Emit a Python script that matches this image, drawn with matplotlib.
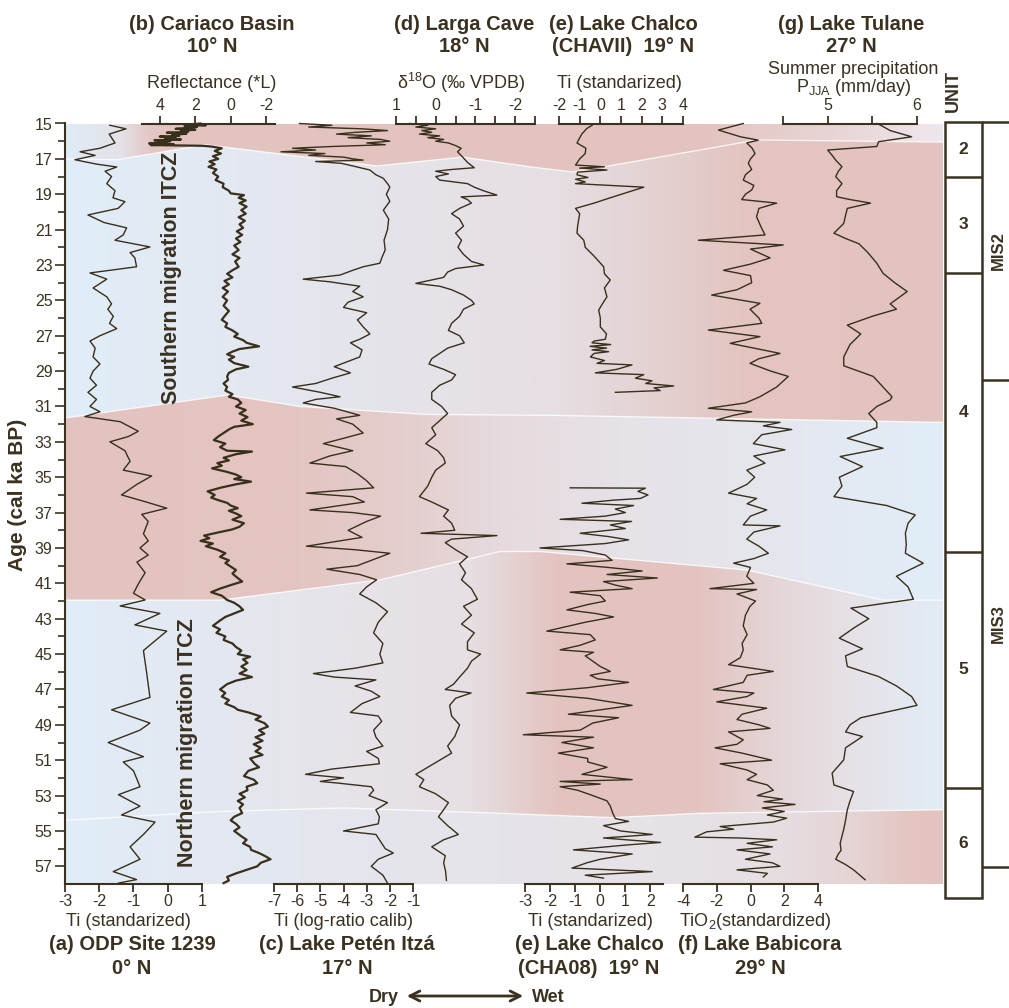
import matplotlib
matplotlib.use('Agg')
import matplotlib.pyplot as plt
import numpy as np
from matplotlib.patches import Polygon, Rectangle, FancyArrowPatch
from matplotlib.colors import to_rgb

# ---------------- data (age in cal ka BP, proxy value) ----------------
# (a) ODP Site 1239, Ti standarized
odp_age = [15.1, 15.3, 15.6, 16.1, 16.4, 16.6, 16.8, 17.05, 17.3, 17.46, 17.7, 18.0, 18.4, 18.8, 19.2,
           19.42, 19.8, 20.17, 20.6, 20.9, 21.3, 21.6, 21.98, 22.3, 22.6, 23.1, 23.45, 23.8, 24.3, 24.8,
           25.2, 25.5, 25.9, 26.3, 26.6, 27.0, 27.3, 27.7, 28.2, 28.6, 29.0, 29.4, 29.8, 30.2, 30.6,
           31.0, 31.3, 31.57, 31.86, 32.4, 32.7, 33.0, 33.5, 34.1, 34.6, 34.93, 35.4, 36.0, 36.4, 36.75,
           37.1, 37.5, 38.2, 38.6, 39.0, 39.4, 39.8, 40.4, 41.0, 41.56, 41.94, 42.28, 42.7, 43.35, 43.7,
           44.8, 46.0, 47.45, 48.15, 48.9, 49.3, 50.0, 50.8, 51.1, 51.6, 52.5, 52.95, 53.6, 54.1, 54.5,
           55.2, 55.9, 56.6, 57.3, 57.75, 57.95]
odp_ti = [-1.69, -1.22, -1.71, -1.54, -1.98, -2.56, -2.12, -2.71, -2.07, -1.49, -1.83, -1.64, -1.78, -1.54, -1.6,
          -1.25, -1.45, -2.33, -1.86, -1.2, -1.3, -1.54, -0.52, -1.1, -0.96, -0.91, -2.27, -1.78, -2.18, -1.78,
          -1.64, -1.75, -1.59, -1.7, -1.49, -1.98, -2.27, -2.12, -2.18, -1.98, -2.18, -2.27, -2.08, -2.33, -2.08,
          -2.27, -1.98, -2.42, -1.39, -0.86, -1.15, -1.69, -1.25, -1.1, -1.3, -0.47, -0.9, -1.35, -0.63, -0.03,
          -0.76, -0.57, -0.71, -0.57, -0.81, -0.57, -0.9, -0.66, -0.85, -1.0, -0.66, -1.39, -0.23, -0.96, -0.03,
          -0.71, -0.62, -0.52, -1.64, -0.52, -0.81, -1.74, -0.71, -1.3, -1.0, -0.81, -1.44, -0.81, -1.35, -0.37,
          -0.71, -1.1, -0.81, -1.59, -0.91, -1.44]

# (b) Cariaco Basin, reflectance (*L)
cariaco_age = [15.0, 15.05, 15.1, 15.13, 15.2, 15.24, 15.3, 15.36, 15.4, 15.47, 15.52, 15.58, 15.63, 15.7,
               15.74, 15.8, 15.86, 15.9, 15.95, 16.0, 16.05, 16.1, 16.13, 16.18, 16.22, 16.26, 16.3, 16.4,
               16.55, 16.7, 16.85, 17.0, 17.15, 17.3, 17.45, 17.6,
               17.8, 18.0, 18.2, 18.4, 18.6, 18.8, 18.95, 19.05, 19.2, 19.35, 19.5, 19.7, 19.9, 20.1, 20.3,
               20.5, 20.7, 20.9, 21.1, 21.3, 21.5, 21.7, 21.9, 22.15, 22.4, 22.6, 22.8, 23.1, 23.3, 23.5,
               23.7, 23.9, 24.1, 24.3, 24.5, 24.8, 25.0, 25.3, 25.6, 25.9, 26.1, 26.3, 26.5, 26.7, 26.9,
               27.05, 27.25, 27.4, 27.6, 27.75, 27.9, 28.05, 28.2, 28.35, 28.55, 28.75, 28.9, 29.1, 29.3,
               29.5, 29.7, 29.9, 30.1, 30.3, 30.45, 30.6, 30.8, 31.0, 31.2, 31.4, 31.6, 31.8, 32.0, 32.15,
               32.3, 32.5, 32.7, 32.9, 33.1, 33.3, 33.5, 33.55, 33.7, 33.9, 34.05, 34.2, 34.35, 34.5, 34.7,
               34.85, 35.0, 35.1, 35.25, 35.4, 35.6, 35.8, 36.0, 36.15, 36.28, 36.45, 36.6, 36.75, 36.9,
               37.05, 37.2, 37.4, 37.6, 37.8, 37.95, 38.1, 38.3, 38.45, 38.6, 38.75, 38.9, 39.1, 39.3, 39.5,
               39.7, 39.85, 40.05, 40.25, 40.45, 40.7, 40.9, 41.1, 41.3, 41.5, 41.7, 41.94, 42.1, 42.3, 42.5,
               42.7, 42.9, 43.1, 43.4, 43.6, 43.8, 44.0, 44.2, 44.4, 44.6, 44.8, 45.0, 45.15, 45.3, 45.5,
               45.7, 45.9, 46.1, 46.3, 46.5, 46.7, 46.85, 47.0, 47.2, 47.4, 47.6, 47.8, 48.0, 48.15, 48.3,
               48.53, 48.7, 48.9, 49.1, 49.3, 49.5, 49.7, 49.9, 50.1, 50.3, 50.5, 50.7, 50.9, 51.2, 51.4,
               51.6, 51.9, 52.1, 52.3, 52.5, 52.7, 52.9, 53.1, 53.3, 53.5, 53.7, 53.99, 54.2, 54.4, 54.6,
               54.8, 55.0, 55.3, 55.5, 55.7, 55.9, 56.07, 56.25, 56.4, 56.6, 56.8, 57.0, 57.2, 57.4, 57.6,
               57.8, 57.95]
cariaco_refl = [1.7, 2.2, 1.4, 2.6, 1.9, 2.3, 3.1, 2.0, 2.8, 2.4, 3.6, 2.5, 3.3, 2.9, 4.0, 3.1, 3.7, 2.8,
                4.3, 3.4, 4.1, 3.6, 4.6, 3.2, 4.5, 1.6, 1.1, 0.5,
                0.9, 0.55, 1.0, 0.7, 1.2, 0.9, 1.25, 0.8,
                1.0, 0.7, 0.85, 0.4, 0.45, 0.1, 0.0, -0.75, -0.45, -0.85, -0.5, -0.9, -0.6, -0.85, -0.45,
                -0.8, -0.5, -0.7, -0.35, -0.65, -0.3, -0.55, -0.2, -0.45, -0.1, -0.5, -0.25, -0.45, -0.1, 0.2,
                -0.1, 0.35, 0.1, 0.45, 0.15, 0.45, 0.2, 0.4, 0.1, 0.35, 0.5, 0.2, 0.3, -0.1, -0.4,
                -0.2, -0.7, -0.9, -1.6, -0.5, -0.1, 0.2, -0.2, 0.1, -0.2, -1.0, -0.3, 0.1, 0.2,
                0.15, 0.4, 0.2, 0.3, -0.1, 0.1, -0.4, -0.6, -0.3, -0.85, -0.5, -0.95, -0.6, -1.25, -0.2,
                0.1, 0.4, 0.7, 0.95, 0.3, 0.6, 0.2, -1.2, -0.3, 0.4, 0.1, 0.75, 0.5, 1.05, 0.2,
                -0.3, -0.6, -0.2, -1.15, -0.3, 0.6, 1.3, 0.9, 1.1, 0.75, 0.2, 0.0, -0.4, 0.1,
                -0.3, -0.6, -0.1, -0.75, -0.5, -0.1, 0.6, 1.5, 1.2, 1.7, 1.0, 1.4, 0.75, 0.3, 0.6,
                0.1, 0.3, 0.0, -0.3, -0.1, -0.4, -0.65, 0.0, 0.6, 1.1, 0.5, 0.2, -0.2, -0.5, -0.7,
                -0.2, 0.3, 0.6, 1.0, 0.6, 0.8, 0.3, 0.4, -0.1, -0.3, -0.6, -0.4, -1.1, -0.7, -0.95,
                -0.6, -0.9, -0.5, -1.2, -0.3, 0.2, 0.4, 0.6, 0.3, 0.5, 0.1, 0.3, -0.2, -0.4, -1.0,
                -1.7, -1.4, -1.9, -2.1, -1.6, -1.9, -1.4, -1.8, -1.3, -1.7, -1.4, -1.8, -1.1, -1.35, -1.6,
                -1.0, -0.75, -1.3, -1.5, -0.9, -0.95, -0.5, -0.8, -0.4, -0.7, -0.5, -0.65, -0.2, 0.0, -0.3,
                -0.5, -0.2, -0.6, -0.9, -0.7, -1.1, -1.15, -1.6, -1.9, -2.25, -1.7, -1.5, -0.9, -0.3, 0.2,
                0.1, 0.4]

# (c) Lake Peten Itza, Ti log-ratio calib
peten_age = [15.0, 15.1, 15.2, 15.3, 15.4, 15.5, 15.6, 15.7, 15.8, 15.9, 16.0, 16.1, 16.2, 16.3, 16.4, 16.5,
             16.6, 16.7, 16.8, 16.9, 17.0, 17.07, 17.15, 17.25, 17.4, 17.63, 17.9, 18.1, 18.4, 18.6, 19.0,
             19.4, 19.9, 20.4, 21.0, 21.6, 22.15, 22.6, 22.9, 23.1, 23.3, 23.57, 23.8, 23.95, 24.2, 24.5,
             24.8, 25.1, 25.4, 25.7, 26.1, 26.5, 26.9, 27.2, 27.4, 27.8, 28.2, 28.5, 28.75, 29.1, 29.4,
             29.7, 29.9, 30.2, 30.45, 30.6, 30.8, 31.1, 31.5, 31.7, 32.0, 32.5, 32.8, 33.1, 33.5, 33.8,
             34.2, 34.4, 34.8, 35.2, 35.6, 35.9, 36.1, 36.4, 36.85, 37.0, 37.2, 37.5, 38.0, 38.4, 38.9,
             39.1, 39.3, 39.6, 40.0, 40.2, 40.5, 40.8, 41.2, 41.6, 42.1, 42.6, 43.2, 43.8, 44.4, 45.0,
             45.5, 45.8, 46.1, 46.3, 46.46, 46.8, 47.1, 47.4, 47.8, 48.3, 48.5, 48.8, 49.3, 49.7, 50.2,
             50.5, 50.9, 51.2, 51.5, 51.8, 52.0, 52.2, 52.3, 52.5, 52.7, 53.0, 53.4, 53.8, 54.2, 54.6,
             55.0, 55.2, 55.6, 56.0, 56.25, 56.6, 57.0, 57.5, 57.95]
peten_ti = [-5.9, -4.5, -5.5, -3.2, -2.1, -3.5, -4.3, -2.8, -3.8, -2.4, -2.0, -3.0, -2.2, -4.5, -6.2, -5.2,
            -6.7, -4.8, -5.5, -4.0, -3.6, -3.15, -5.2, -4.1, -3.6, -2.86, -2.6, -2.28, -2.1, -2.0, -2.15,
            -2.0, -2.28, -2.05, -2.1, -2.25, -2.2, -2.35, -2.43, -3.15, -3.6, -4.15, -5.74, -4.6, -3.3, -3.6,
            -3.15, -3.8, -4.0, -3.0, -3.4, -3.15, -2.86, -3.3, -3.7, -3.2, -3.3, -3.9, -4.4, -3.7, -4.5,
            -5.2, -6.2, -5.0, -4.15, -5.2, -5.74, -4.4, -3.3, -4.3, -3.6, -3.15, -4.0, -4.87, -3.6, -4.6,
            -5.45, -3.9, -3.4, -3.0, -2.7, -5.6, -3.6, -3.1, -5.45, -3.6, -2.4, -3.0, -3.8, -3.2, -5.6,
            -3.5, -2.0, -2.6, -3.4, -4.72, -3.3, -2.57, -3.0, -3.3, -2.6, -2.1, -2.5, -2.7, -2.3, -2.43,
            -2.3, -3.5, -5.3, -4.4, -2.6, -3.5, -2.8, -2.43, -3.2, -3.7, -2.5, -2.35, -2.7, -2.6, -2.3,
            -3.0, -2.5, -2.45, -4.5, -5.64, -4.0, -5.0, -4.2, -2.8, -2.7, -2.9, -2.1, -2.6, -2.45, -2.5,
            -4.0, -2.6, -2.4, -2.2, -1.85, -2.5, -2.8, -2.3, -2.1]

# (d) Larga Cave, d18O (permil VPDB)
larga_age = [15.0, 15.1, 15.2, 15.3, 15.4, 15.5, 15.6, 15.7, 15.8, 15.9, 16.0, 16.1, 16.25, 16.4, 16.6, 16.9,
             17.2, 17.5, 17.6, 17.7, 17.85, 18.0, 18.2, 18.4, 18.6, 18.8, 19.05, 19.15, 19.3, 19.5, 19.8,
             20.1, 20.4, 20.8, 21.2, 21.6, 22.0, 22.4, 22.8, 23.0, 23.2, 23.4, 23.7, 24.04, 24.2, 24.4,
             24.7, 25.0, 25.2, 25.5, 25.9, 26.3, 26.7, 27.0, 27.4, 27.7, 28.0, 28.3, 28.6, 28.9, 29.2,
             29.5, 29.8, 30.2, 30.6, 31.0, 31.4, 31.8, 32.2, 32.6, 33.1, 33.5, 33.9, 34.2, 34.6, 35.0,
             35.5, 36.1, 36.4, 36.85, 37.2, 37.6, 38.0, 38.17, 38.3, 38.5, 38.7, 39.1, 39.5, 39.9, 40.4,
             40.8, 41.3, 41.9, 42.3, 42.8, 43.3, 43.8, 44.3, 44.76, 45.0, 45.4, 45.8, 46.3, 46.7, 47.0,
             47.2, 47.5, 47.9, 48.5, 49.0, 49.66, 50.2, 50.6, 51.0, 51.4, 51.8, 52.1, 52.5, 52.9, 53.4,
             53.8, 54.2, 54.7, 55.2, 55.5, 55.9, 56.4, 56.8, 57.3, 57.8]
larga_d18o = [0.66, 0.2, 0.5, 0.0, 0.35, 0.1, 0.41, -0.1, 0.2, -0.2, 0.0, -0.32, -0.5, -0.64, -0.55, -0.68,
              -0.8, -0.97, -0.4, 0.0, -0.32, 0.0, -0.1, -0.8, -0.97, -1.2, -1.54, -0.64, -0.8, -0.9, -0.6,
              -0.4, -0.6, -0.7, -0.5, -0.65, -0.56, -0.7, -0.9, -1.21, -0.5, -0.3, -0.2, 0.5, -0.1, -0.4,
              -0.7, -0.9, -0.97, -0.7, -0.6, -0.4, -0.32, -0.6, -0.72, -0.3, -0.1, 0.1, 0.17, -0.2, -0.5,
              -0.4, -0.1, 0.1, 0.1, -0.15, -0.3, -0.1, 0.1, 0.0, 0.25, -0.05, -0.2, -0.24, 0.0, 0.1,
              0.2, 0.41, 0.1, -0.32, -0.2, -0.4, -0.48, 0.37, -1.54, -0.4, -0.24, -0.5, -0.8, -0.6, -0.75,
              -0.65, -0.9, -1.05, -0.7, -0.9, -0.65, -0.97, -0.8, -0.8, -1.13, -0.9, -0.8, -0.6, -0.45, -0.24,
              -0.89, -0.5, -0.35, -0.4, -0.6, -0.48, -0.3, -0.4, -0.1, 0.2, 0.5, 0.3, 0.41, 0.0, -0.32,
              -0.2, -0.07, -0.3, -0.57, -0.2, 0.1, -0.24, -0.2, -0.25, -0.27]

# (e) Lake Chalco CHAVII, Ti standarized (top axis)
chavii_age = [15.1, 15.28, 15.6, 16.1, 16.4, 16.7, 17.0, 17.35, 17.45, 17.52, 17.63, 17.75, 17.9, 18.05, 18.15,
              18.3, 18.4, 18.6, 19.2, 19.5, 19.8, 20.1, 20.46, 20.8, 21.2, 21.6, 22.0, 22.5, 23.1, 23.5,
              23.85, 24.3, 24.8, 25.2, 25.55, 26.0, 26.5, 26.9, 27.2, 27.3, 27.4, 27.5, 27.6, 27.7, 27.8,
              27.9, 28.0, 28.2, 28.4, 28.56, 28.65, 28.9, 29.1, 29.2, 29.4, 29.55, 29.7, 29.84, 29.95, 30.1,
              30.2]
chavii_ti = [-0.4, -0.65, -0.9, -1.13, -0.7, -0.73, -1.0, -1.2, 0.2, -1.0, 0.32, -1.1, -1.13, -0.6, -1.2,
             -0.73, -1.2, 2.1, 0.48, -0.3, -1.2, -1.0, -1.05, -1.1, -1.13, -0.8, -0.73, -0.3, 0.16, 0.2,
             0.48, 0.2, 0.32, 0.1, -0.08, 0.0, 0.0, 0.3, 0.24, -0.3, -0.4, 0.5, -0.5, 0.3, -0.4,
             0.4, -0.3, -0.48, 0.2, -0.16, 1.53, 0.8, -0.24, 2.1, 1.7, 2.5, 2.2, 3.55, 2.6, 2.9,
             0.73]

# (e) Lake Chalco CHA08, Ti standarized (bottom axis)
cha08_age = [35.6, 35.62, 35.8, 36.0, 36.2, 36.3, 36.47, 36.6, 36.8, 37.0, 37.2, 37.38, 37.5, 37.7, 37.9,
             38.17, 38.35, 38.54, 38.75, 39.0, 39.15, 39.4, 39.7, 39.9, 40.1, 40.3, 40.5, 40.7, 40.9, 41.1,
             41.3, 41.5, 41.7, 42.0, 42.2, 42.5, 42.7, 42.9, 43.2, 43.7, 43.9, 44.2, 44.5, 44.76, 44.9,
             45.1, 45.4, 45.7, 45.98, 46.2, 46.4, 46.6, 46.9, 47.2, 47.5, 47.9, 48.1, 48.4, 48.6, 48.9,
             49.3, 49.56, 49.7, 50.0, 50.3, 50.6, 50.9, 51.1, 51.4, 51.8, 52.1, 52.2, 52.35, 52.5, 52.7,
             53.0, 53.3, 53.6, 54.0, 54.3, 54.46, 54.7, 55.0, 55.2, 55.4, 55.65, 55.8, 56.07, 56.3, 56.6,
             56.8, 57.1, 57.3, 57.5, 57.67]
cha08_ti = [-1.2, 1.8, 1.5, 1.9, 1.6, 0.5, -0.73, 1.33, 0.6, 1.0, 0.2, -1.6, 1.25, 0.4, 1.0,
            -0.8, 0.3, 1.13, 0.2, -2.4, -0.7, 0.2, 0.47, -1.33, 0.3, 1.67, 0.27, 2.27, 0.13, 0.6,
            1.27, -1.2, 0.0, 0.2, -0.5, -1.33, -0.2, 0.53, -0.6, -2.13, -0.4, -0.2, -0.8, -1.6, -0.27,
            -0.6, -0.3, 0.0, 0.4, -0.4, -0.1, 1.13, -0.5, -2.93, -0.5, 1.27, 0.27, -1.27, 0.73, -0.3,
            -0.8, -3.07, -0.27, -1.53, -0.27, -1.67, -0.5, -0.5, 0.27, -0.73, 1.27, -1.6, 0.0, -1.6, -0.9,
            -0.3, 0.27, 0.4, 0.5, 0.6, 1.13, 0.13, 0.8, 2.07, 0.13, 2.4, 1.0, -1.07, 1.27, 0.0,
            -0.53, -1.13, 2.07, -0.6, 0.13]

# (f) Lake Babicora, TiO2 standardized
babicora_age = [15.0, 15.37, 15.75, 15.94, 16.1, 16.4, 16.7, 17.0, 17.25, 17.6, 17.9, 18.2, 18.5, 18.76, 19.0,
                19.3, 19.5, 19.8, 20.27, 20.8, 21.3, 21.6, 21.87, 22.1, 22.6, 22.95, 23.3, 23.6, 24.0, 24.4,
                24.7, 25.17, 25.5, 26.0, 26.3, 26.68, 27.05, 27.43, 28.0, 28.3, 28.56, 29.0, 29.3, 29.9, 30.45,
                30.8, 31.1, 31.3, 31.5, 31.76, 31.9, 32.1, 32.3, 32.6, 33.1, 33.45, 33.8, 34.2, 34.6, 35.0,
                35.4, 35.9, 36.2, 36.5, 36.85, 37.2, 37.7, 37.75, 38.1, 38.5, 38.9, 39.3, 39.6, 39.86, 40.1,
                40.6, 41.0, 41.3, 41.35, 41.6, 42.0, 42.3, 42.8, 43.4, 43.9, 44.4, 44.76, 45.2, 45.6, 45.98,
                46.2, 46.6, 47.0, 47.2, 47.4, 47.7, 48.06, 48.4, 48.7, 49.0, 49.2, 49.4, 49.85, 50.1, 50.3,
                50.6, 51.0, 51.2, 51.55, 51.8, 52.1, 52.4, 52.7, 53.0, 53.2, 53.35, 53.5, 53.7, 53.9, 54.1,
                54.28, 54.5, 54.75, 54.9, 55.05, 55.35, 55.4, 55.5, 55.7, 55.9, 56.07, 56.3, 56.6, 56.8, 57.0,
                57.2, 57.4, 57.6]
babicora_tio2 = [-0.43, -1.9, -0.6, 0.46, -0.22, 0.1, 0.27, 0.0, -0.13, 0.07, -0.3, -0.43, 0.2, 0.07, -0.3,
                 -0.52, 1.55, 0.5, 0.36, 0.6, 0.86, -3.09, 1.94, 0.0, 1.16, 0.0, -1.6, 0.0, 0.07, -0.8,
                 -2.3, 0.56, -0.03, 0.5, 0.67, -2.5, 0.56, -1.2, 1.75, 0.5, -0.03, 1.2, 2.24, 1.55, 0.56,
                 -0.3, -2.5, 0.07, -1.0, -2.0, 1.75, 0.76, 2.44, 0.66, 0.17, 2.04, 0.2, 0.86, -0.22, 0.25,
                 -0.2, -1.3, 0.36, -0.2, 0.96, 0.0, -0.43, 1.75, 0.2, -0.22, 0.5, 1.06, 0.2, -1.0, 0.0,
                 -0.22, 0.2, -2.4, 0.36, -0.8, 0.3, -0.03, -0.3, -0.43, -0.2, -0.5, -0.43, -0.6, -1.3, 1.35,
                 -0.2, -0.43, -2.2, 0.2, -0.2, -2.0, 0.96, -0.5, -0.8, 0.5, 1.16, -1.3, -0.43, -0.8, -2.1,
                 -0.5, 1.25, -1.8, -0.22, 0.36, -0.2, 1.0, 1.35, 0.4, 1.9, 0.8, 2.64, 0.7, 2.0, 1.0,
                 2.14, 1.35, -1.8, -1.0, -2.6, -3.3, -0.6, 1.55, -0.2, 1.3, -0.8, 1.16, -0.3, 1.3, 1.75,
                 -0.8, 1.0, 0.76]

# (g) Lake Tulane, summer precipitation P_JJA (mm/day)
tulane_age = [15.0, 15.09, 15.4, 15.75, 16.03, 16.3, 16.5, 16.8, 17.07, 17.44, 17.7, 18.0, 18.4, 18.8, 19.14,
              19.3, 19.5, 19.8, 20.2, 20.65, 21.2, 21.5, 21.8, 22.3, 22.9, 23.47, 24.0, 24.5, 25.2, 25.5,
              25.9, 26.4, 26.9, 27.5, 28.2, 28.7, 29.3, 29.9, 30.45, 30.63, 31.0, 31.4, 31.9, 32.2, 32.8,
              33.36, 33.83, 34.4, 35.0, 35.5, 36.1, 36.6, 37.13, 37.6, 38.17, 38.8, 39.3, 39.86, 40.6, 41.2,
              41.9, 42.4, 43.0, 43.5, 44.1, 44.7, 45.1, 45.7, 46.27, 46.8, 47.4, 47.9, 48.6, 49.0, 49.4,
              49.66, 50.3, 50.98, 51.73, 52.4, 52.77, 53.3, 53.8, 54.4, 54.9, 55.3, 55.7, 56.1, 56.3, 56.6,
              56.9, 57.2, 57.76]
tulane_pjja = [5.55, 5.59, 5.7, 5.94, 5.57, 5.55, 5.0, 5.05, 5.09, 5.16, 5.12, 5.09, 5.16, 5.1, 5.1,
               5.25, 5.48, 5.22, 5.2, 5.18, 5.07, 5.2, 5.35, 5.45, 5.55, 5.62, 5.75, 5.89, 5.7, 5.77,
               5.5, 5.22, 5.37, 5.25, 5.18, 5.18, 5.51, 5.62, 5.72, 5.7, 5.55, 5.46, 5.55, 5.55, 5.22,
               5.62, 5.14, 5.39, 5.13, 5.16, 5.07, 5.66, 5.98, 5.9, 5.87, 5.88, 5.87, 6.07, 5.77, 5.9,
               5.96, 5.26, 5.46, 5.3, 5.13, 5.39, 5.2, 5.22, 5.57, 5.77, 5.94, 6.0, 5.37, 5.25, 5.2,
               5.39, 5.2, 5.18, 5.05, 5.07, 5.29, 5.25, 5.22, 5.2, 5.18, 5.16, 5.14, 5.15, 5.12, 5.09,
               5.2, 5.29, 5.42]

# shaded climate bands: boundary ages where the slanted edges bend
b1_x = [65, 117, 205, 377, 463, 530, 573, 603, 757, 943]
b1_age = [17.0, 17.05, 16.2, 17.4, 16.9, 17.45, 17.74, 17.46, 15.93, 16.05]
b2_x = [65, 228, 300, 427, 550, 943]
b2_age = [31.65, 30.35, 31.0, 31.45, 31.5, 31.9]
b3_x = [65, 220, 380, 500, 540, 747, 883, 943]
b3_age = [41.95, 41.95, 40.8, 39.2, 39.2, 40.25, 41.95, 41.95]
b4_x = [65, 220, 343, 500, 613, 700, 943]
b4_age = [54.4, 53.9, 53.7, 54.0, 54.25, 54.0, 53.8]

# lithological units and marine isotope stages
unit_names = ['2', '3', '4', '5', '6']
unit_bounds = [14.92, 18.0, 23.45, 39.2, 52.6, 58.8]
mis_names = ['MIS2', 'MIS3']
mis_bounds = [14.92, 29.5, 57.05]

# ---------------- style ----------------
TXT = '#3b3121'
LINE = '#382f1c'
PINK = '#e3c3bf'
BLUE = '#e0edf8'
band_colors = [
    [(65, '#dfecf7'), (120, '#e4e2e8'), (150, '#e3c7c4'), (180, PINK), (700, PINK), (830, '#e8d4d5'), (943, '#efe7ee')],
    [(65, BLUE), (150, '#e2ebf5'), (300, '#e4e6ee'), (450, '#e6e2e8'), (560, '#e6dee2'), (650, '#e4d2d2'), (740, '#e3c5c1'), (943, PINK)],
    [(65, PINK), (300, '#e3c5c1'), (420, '#e5d0d0'), (500, '#e6dade'), (620, '#e6e2e8'), (760, '#e5e6ed'), (870, '#e3ebf4'), (943, BLUE)],
    [(65, BLUE), (180, '#e3e9f2'), (330, '#e6e4ea'), (470, '#e6dfe3'), (530, '#e4ccca'), (560, PINK), (700, '#e3c4c0'), (780, '#e5d6d8'), (860, '#e6e3e9'), (943, '#e2ecf6')],
    [(65, BLUE), (200, '#e3e9f2'), (400, '#e5e5ec'), (600, '#e6e3e8'), (760, '#e6e0e4'), (860, '#e5d3d3'), (910, '#e3c5c1'), (943, PINK)],
]

plt.rcParams['font.family'] = ['Liberation Sans', 'DejaVu Sans']
plt.rcParams['mathtext.fontset'] = 'custom'
plt.rcParams['mathtext.rm'] = 'Liberation Sans'
plt.rcParams['mathtext.it'] = 'Liberation Sans:italic'
plt.rcParams['mathtext.bf'] = 'Liberation Sans:bold'
plt.rcParams['axes.unicode_minus'] = False

W, H = 1009, 1008
Y_TOP, Y_BOT = 123.5, 884.0   # pixel rows of 15 and 58 ka
AGE_TOP, AGE_BOT = 15.0, 58.0

fig = plt.figure(figsize=(W / 100, H / 100), dpi=100)


def fx(x):
    return x / W


def fy(y):
    return 1 - y / H


def age_at(ypx):
    return AGE_TOP + (ypx - Y_TOP) * (AGE_BOT - AGE_TOP) / (Y_BOT - Y_TOP)


def put(x, y, s, **kw):
    kw.setdefault('color', TXT)
    kw.setdefault('ha', 'center')
    kw.setdefault('va', 'center')
    fig.text(fx(x), fy(y), s, **kw)


def px_axes(x0, x1, y0=Y_TOP, y1=Y_BOT):
    return fig.add_axes([fx(x0), fy(y1), (x1 - x0) / W, (y1 - y0) / H])


# ---------------- background bands + age axis ----------------
bg = px_axes(65, 943)
bounds = [([65, 943], [AGE_TOP, AGE_TOP]), (b1_x, b1_age), (b2_x, b2_age),
          (b3_x, b3_age), (b4_x, b4_age), ([65, 943], [AGE_BOT, AGE_BOT])]
xs = np.arange(65, 944)
for i, stops in enumerate(band_colors):
    ux, ua = bounds[i]
    lx, la = bounds[i + 1]
    verts = list(zip(ux, ua)) + list(zip(lx[::-1], la[::-1]))
    poly = Polygon(verts, closed=True, transform=bg.transData, fc='none', ec='none')
    bg.add_patch(poly)
    sx = [s[0] for s in stops]
    cols = np.array([to_rgb(s[1]) for s in stops])
    img = np.stack([np.interp(xs, sx, cols[:, k]) for k in range(3)], axis=-1)[None, :, :]
    im = bg.imshow(img, extent=(65, 943, AGE_BOT, AGE_TOP), aspect='auto',
                   interpolation='bilinear', zorder=0)
    im.set_clip_path(poly)
for bx, ba in bounds[1:-1]:
    bg.plot(bx, ba, color='white', lw=1.0, alpha=0.75, zorder=1)

bg.set_xlim(65, 943)
bg.set_ylim(AGE_BOT, AGE_TOP)
for s in ['top', 'right', 'bottom']:
    bg.spines[s].set_visible(False)
bg.spines['left'].set_color(TXT)
bg.spines['left'].set_linewidth(1.5)
bg.set_xticks([])
bg.set_yticks(np.arange(15, 58, 2))
bg.set_yticks(np.arange(16, 58, 2), minor=True)
bg.tick_params(axis='y', which='both', direction='out', color=TXT, width=1.2,
               labelsize=11.5, labelcolor=TXT, pad=2)
bg.tick_params(axis='y', which='major', length=7)
bg.tick_params(axis='y', which='minor', length=5)

put(18, 495, 'Age (cal ka BP)', rotation=90, fontsize=15, fontweight='bold')


# ---------------- proxy curves ----------------
def curve_axes(x0, x1, xlim, side, ticks, labels=None):
    ax = px_axes(x0, x1)
    ax.set_xlim(*xlim)
    ax.set_ylim(AGE_BOT, AGE_TOP)
    ax.patch.set_visible(False)
    for s in ['left', 'right', 'top', 'bottom']:
        ax.spines[s].set_visible(s == side)
    ax.spines[side].set_color(TXT)
    ax.spines[side].set_linewidth(1.5)
    ax.set_yticks([])
    ax.xaxis.set_ticks_position(side)
    ax.set_xticks(ticks)
    if labels is not None:
        ax.set_xticklabels(labels)
    ax.tick_params(axis='x', direction='out', length=6, width=1.3, color=TXT,
                   labelcolor=TXT, labelsize=11.5, pad=1.5)
    return ax


ax_a = curve_axes(65, 202, (-3, 1), 'bottom', [-3, -2, -1, 0, 1])
ax_a.plot(odp_ti, odp_age, color=LINE, lw=1.0, clip_on=False)

ax_b = curve_axes(142, 275, (5, -2.5), 'top', [4, 2, 0, -2])
ax_b.plot(cariaco_refl, cariaco_age, color=LINE, lw=1.6, clip_on=False)

ax_c = curve_axes(274, 413, (-7, -1), 'bottom', [-7, -6, -5, -4, -3, -2, -1])
ax_c.plot(peten_ti, peten_age, color=LINE, lw=1.0, clip_on=False)

larga_ticks = [1, 0.5, 0, -0.5, -1, -1.5, -2, -2.5]
ax_d = curve_axes(396, 535, (1, -2.5), 'top', larga_ticks,
                  ['1', '', '0', '', '-1', '', '-2', ''])
ax_d.plot(larga_d18o, larga_age, color=LINE, lw=1.0, clip_on=False)

ax_e1 = curve_axes(559, 683, (-2, 4), 'top', [-2, -1, 0, 1, 2, 3, 4])
ax_e1.plot(chavii_ti, chavii_age, color=LINE, lw=1.0, clip_on=False)

ax_e2 = curve_axes(525, 663, (-3, 2.5), 'bottom', [-3, -2, -1, 0, 1, 2])
ax_e2.plot(cha08_ti, cha08_age, color=LINE, lw=1.0, clip_on=False)

ax_f = curve_axes(683, 818, (-4, 4), 'bottom', [-4, -2, 0, 2, 4])
ax_f.plot(babicora_tio2, babicora_age, color=LINE, lw=1.0, clip_on=False)

ax_g = curve_axes(783, 917, (4.5, 6), 'top', [4.5, 5, 5.5, 6], ['', '5', '', '6'])
ax_g.plot(tulane_pjja, tulane_age, color=LINE, lw=1.0, clip_on=False)

# ---------------- titles and axis labels ----------------
TFS = 14.5
LFS = 13
put(212, 25, '(b) Cariaco Basin', fontsize=TFS, fontweight='bold')
put(212, 47, '10° N', fontsize=TFS, fontweight='bold')
put(464, 25, '(d) Larga Cave', fontsize=TFS, fontweight='bold')
put(464, 47, '18° N', fontsize=TFS, fontweight='bold')
put(623, 25, '(e) Lake Chalco', fontsize=TFS, fontweight='bold')
put(623, 47, '(CHAVII)  19° N', fontsize=TFS, fontweight='bold')
put(851, 25, '(g) Lake Tulane', fontsize=TFS, fontweight='bold')
put(851, 47, '27° N', fontsize=TFS, fontweight='bold')

put(212, 83, 'Reflectance (*L)', fontsize=LFS)
put(461, 83, 'δ$^{18}$O (‰ VPDB)', fontsize=LFS)
put(619, 83, 'Ti (standarized)', fontsize=LFS)
put(853, 69, 'Summer precipitation', fontsize=LFS)
put(854, 88, '$\\mathregular{P_{JJA}}$ (mm/day)', fontsize=LFS)

put(128, 921, 'Ti (standarized)', fontsize=LFS)
put(132, 945, '(a) ODP Site 1239', fontsize=TFS, fontweight='bold')
put(132, 968, '0° N', fontsize=TFS, fontweight='bold')
put(343, 921, 'Ti (log-ratio calib)', fontsize=LFS)
put(347, 945, '(c) Lake Petén Itzá', fontsize=TFS, fontweight='bold')
put(347, 968, '17° N', fontsize=TFS, fontweight='bold')
put(590, 921, 'Ti (standarized)', fontsize=LFS)
put(589, 945, '(e) Lake Chalco', fontsize=TFS, fontweight='bold')
put(589, 968, '(CHA08)  19° N', fontsize=TFS, fontweight='bold')
put(755, 921, 'TiO$_2$(standardized)', fontsize=LFS)
put(760, 945, '(f) Lake Babicora', fontsize=TFS, fontweight='bold')
put(760, 968, '29° N', fontsize=TFS, fontweight='bold')

put(172, 278, 'Southern migration ITCZ', rotation=90, fontsize=15.5, fontweight='bold')
put(188, 743, 'Northern migration ITCZ', rotation=90, fontsize=15.5, fontweight='bold')

put(384, 997, 'Dry', fontsize=13, fontweight='bold')
put(548, 997, 'Wet', fontsize=13, fontweight='bold')
fig.add_artist(FancyArrowPatch((fx(404), fy(996)), (fx(526), fy(996)), transform=fig.transFigure,
                               arrowstyle='<->', mutation_scale=18, lw=2.0, color=TXT))

# ---------------- unit / MIS column ----------------
st = px_axes(945, 1009, 122, 898)
st.set_xlim(0, 64)
st.set_ylim(age_at(898), age_at(122))
st.axis('off')
st.add_patch(Rectangle((0, unit_bounds[0]), 37, unit_bounds[-1] - unit_bounds[0],
                       fill=False, lw=1.8, ec=TXT, clip_on=False))
st.hlines(unit_bounds[1:-1], 0, 37, color=TXT, lw=1.8, clip_on=False)
st.hlines(mis_bounds, 37, 64, color=TXT, lw=1.8, clip_on=False)
for name, a0, a1 in zip(unit_names, unit_bounds[:-1], unit_bounds[1:]):
    st.text(18.5, (a0 + a1) / 2, name, ha='center', va='center', fontsize=12.5,
            fontweight='bold', color=TXT)
for name, a0, a1 in zip(mis_names, mis_bounds[:-1], mis_bounds[1:]):
    st.text(53.5, (a0 + a1) / 2, name, ha='center', va='center', fontsize=12,
            fontweight='bold', color=TXT, rotation=90)
put(953, 91, 'UNIT', rotation=90, fontsize=13, fontweight='bold')

fig.savefig('out.png', dpi=100)
